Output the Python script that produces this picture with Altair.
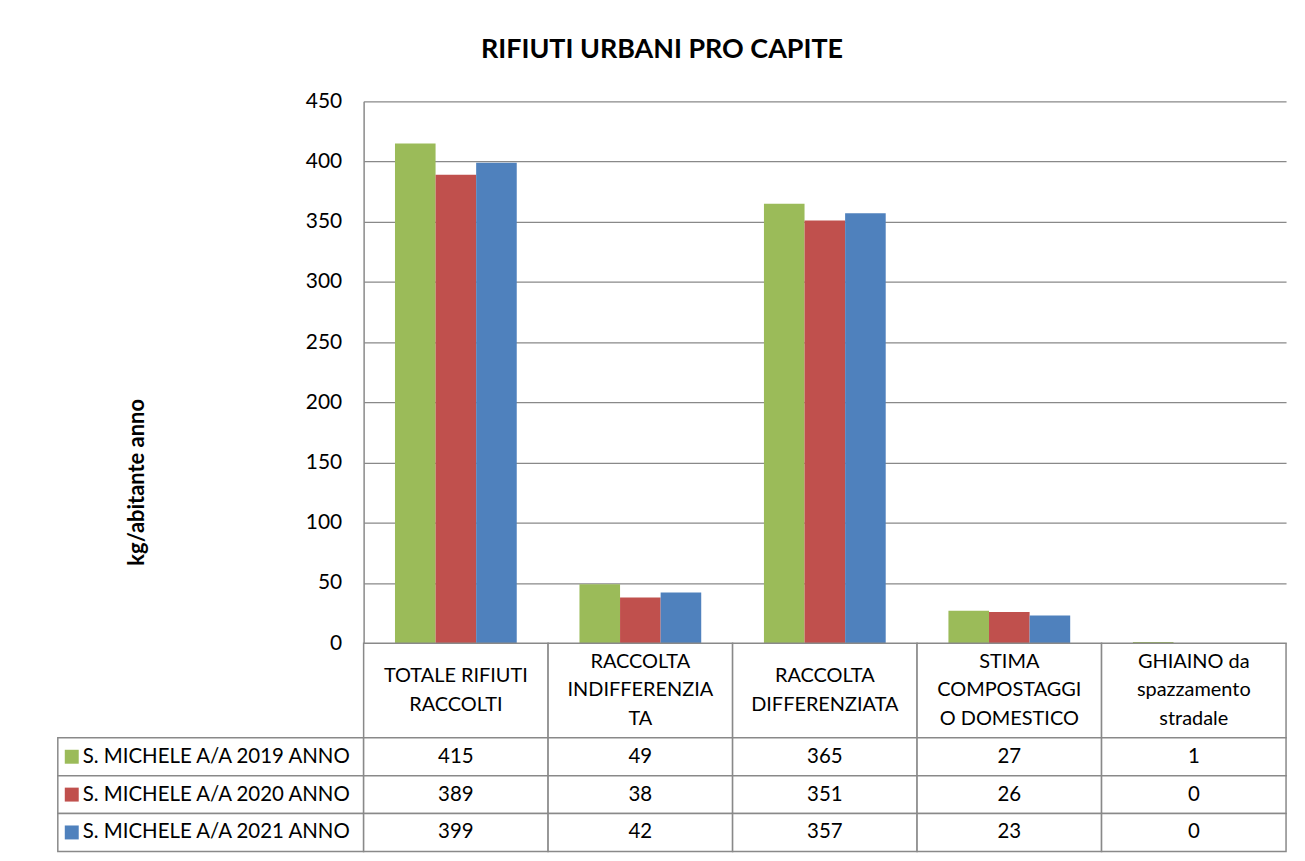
import altair as alt
import pandas as pd

FONT = "Lato"
GRAY = "#898989"

categories = [
    "TOTALE RIFIUTI RACCOLTI",
    "RACCOLTA INDIFFERENZIATA",
    "RACCOLTA DIFFERENZIATA",
    "STIMA COMPOSTAGGIO DOMESTICO",
    "GHIAINO da spazzamento stradale",
]
header_labels = [
    "TOTALE RIFIUTI\nRACCOLTI",
    "RACCOLTA\nINDIFFERENZIA\nTA",
    "RACCOLTA\nDIFFERENZIATA",
    "STIMA\nCOMPOSTAGGI\nO DOMESTICO",
    "GHIAINO da\nspazzamento\nstradale",
]
series = [
    "S. MICHELE A/A 2019 ANNO",
    "S. MICHELE A/A 2020 ANNO",
    "S. MICHELE A/A 2021 ANNO",
]
v2019 = [415, 49, 365, 27, 1]
v2020 = [389, 38, 351, 26, 0]
v2021 = [399, 42, 357, 23, 0]
colors = ["#9BBB59", "#C0504D", "#4F81BD"]
y_ticks = [0, 50, 100, 150, 200, 250, 300, 350, 400, 450]

rows = []
for s, vals in zip(series, [v2019, v2020, v2021]):
    for c, v in zip(categories, vals):
        rows.append({"category": c, "series": s, "value": v})
df = pd.DataFrame(rows)

hrows = []
for c, lab in zip(categories, header_labels):
    lines = lab.split("\n")
    n = len(lines)
    for i, ln in enumerate(lines):
        hrows.append({"category": c, "line": ln, "pos": (n - 1) / 2 - i})
hdf = pd.DataFrame(hrows)
cdf = pd.DataFrame({"category": categories})
ldf = pd.DataFrame({"series": series})

color_scale = alt.Scale(domain=series, range=colors)
band0 = alt.Scale(paddingInner=0, paddingOuter=0)

bars = alt.Chart(df).mark_bar().encode(
    x=alt.X("category:N", sort=categories, axis=None,
            scale=alt.Scale(paddingInner=0.34, paddingOuter=0.17)),
    xOffset=alt.XOffset("series:N", sort=series,
                        scale=alt.Scale(paddingInner=0, paddingOuter=0)),
    y=alt.Y("value:Q", scale=alt.Scale(domain=[0, 450], nice=False),
            axis=alt.Axis(values=y_ticks, title="kg/abitante anno",
                          domainColor=GRAY, domainWidth=1.5,
                          gridColor=GRAY, gridWidth=1.3,
                          tickSize=0, labelFontSize=21, labelPadding=22,
                          labelFont=FONT, labelColor="black",
                          titleFont=FONT, titleFontSize=22, titleFontWeight="bold",
                          titleColor="black", titleX=-228, titleY=382,
                          titleAngle=270, titleBaseline="middle", titleAlign="center")),
    color=alt.Color("series:N", scale=color_scale, legend=None),
).properties(width=926, height=544)

hx = alt.X("category:N", sort=categories, axis=None, scale=band0)
header = alt.layer(
    alt.Chart(cdf).mark_rect(fill="white", stroke=GRAY, strokeWidth=1.5).encode(x=hx),
    alt.Chart(hdf).mark_text(font=FONT, fontSize=20, color="black").encode(
        x=hx,
        y=alt.Y("pos:Q", axis=None, scale=alt.Scale(domain=[-95 / 57, 95 / 57], nice=False, zero=False)),
        text="line:N"),
).properties(width=926, height=95)

dbase = alt.Chart(df).encode(
    x=alt.X("category:N", sort=categories, axis=None, scale=band0),
    y=alt.Y("series:N", sort=series, axis=None, scale=band0))
data = alt.layer(
    dbase.mark_rect(fill="white", stroke=GRAY, strokeWidth=1.5),
    dbase.mark_text(font=FONT, fontSize=20.5, color="black").encode(text="value:Q"),
).properties(width=926, height=114)

lbase = alt.Chart(ldf).encode(
    y=alt.Y("series:N", sort=series, axis=None, scale=band0))
legend = alt.layer(
    lbase.mark_rect(fill="white", stroke=GRAY, strokeWidth=1.5),
    lbase.mark_square(size=196, opacity=1).encode(
        x=alt.value(14), color=alt.Color("series:N", scale=color_scale, legend=None)),
    lbase.mark_text(font=FONT, fontSize=20.5, align="left", color="black").encode(
        x=alt.value(25), text="series:N"),
).properties(width=307, height=114)

def spacer(h):
    return alt.Chart(pd.DataFrame({"a": [0]})).mark_point(opacity=0).encode(
        x=alt.value(0), y=alt.value(0)).properties(width=307, height=h)

chart = alt.concat(
    spacer(544), bars, spacer(95), header, legend, data,
    columns=2, spacing=0, bounds="flush",
).resolve_scale(x="independent", y="independent", color="independent").properties(
    title=alt.TitleParams("RIFIUTI URBANI PRO CAPITE", font=FONT, fontSize=27,
                          fontWeight="bold", color="black", anchor="middle",
                          offset=26, dx=-9),
    padding={"left": 47, "top": 27, "right": 10, "bottom": 5},
).configure_view(strokeWidth=0)

chart.save("out.html", embed_options={"renderer": "svg", "actions": False})
